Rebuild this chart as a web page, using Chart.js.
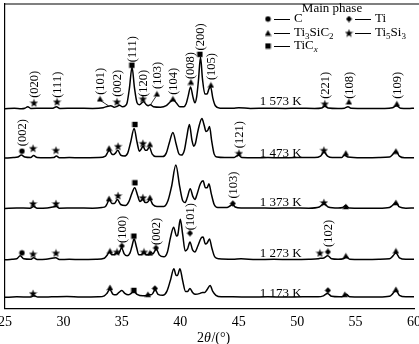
<!DOCTYPE html>
<html>
<head>
<meta charset="utf-8">
<script src="https://cdn.jsdelivr.net/npm/chart.js@4/dist/chart.umd.min.js"></script>
<style>
  html, body { margin: 0; padding: 0; background: #fff; }
  #wrap { width: 419px; height: 344px; position: relative; }
</style>
</head>
<body>
<div id="wrap"><canvas id="xrd"></canvas></div>
<script>
const SERIF = '"Liberation Serif", "Times New Roman", serif';

// one trace per sintering temperature, top to bottom
const temps = ['1 573 K', '1 473 K', '1 373 K', '1 273 K', '1 173 K'];
const offsets = [202, 152, 101, 49, 11];
const tempLabelX = 48.6;
const tempLabelY = [209, 157, 107, 55, 15];

const tt1573 = [25, 25.8, 26.4, 26.7, 26.95, 27.2, 28.2, 29.1, 29.4, 29.7, 31, 32.5, 33.4, 33.8, 34.05, 34.35, 34.6, 34.8, 35.05, 35.3, 35.45, 35.65, 35.87, 36.08, 36.3, 36.5, 36.85, 37.1, 37.25, 37.45, 37.7, 38.3, 38.8, 39.15, 39.4, 39.65, 39.95, 40.3, 40.5, 40.68, 40.88, 41.08, 41.25, 41.4, 41.55, 41.73, 41.9, 42.1, 42.3, 42.45, 42.6, 42.78, 43.0, 43.4, 44.5, 45.0, 46, 47.5, 49, 50, 51.5, 52.1, 52.37, 52.65, 53.5, 54.05, 54.35, 54.6, 56, 57.5, 58.15, 58.5, 58.85, 59.5, 60];
const in1573 = [0, 0.5, 0, 0.5, 2, 0.3, 0.5, 0.5, 2, 0.3, 0.5, 0.3, 1, 2.5, 3, 1.5, 2.5, 3.5, 2, 3, 6, 21, 42, 21, 6, 4, 7, 4, 3, 4, 2, 1.5, 3, 7, 9, 6, 2, 2, 5, 13, 22, 12, 6, 12, 28, 52, 30, 15, 15, 20, 22, 11, 3, 0.5, 0.5, 1, 0.3, 0.5, 0.3, 0.5, 0.3, 0.8, 2.5, 0.8, 0.3, 0.5, 2, 0.5, 0.3, 0.3, 1, 3, 0.5, 0.2, 0.5];

const tt1473 = [25, 25.7, 26.1, 26.4, 26.7, 27.2, 27.45, 27.75, 28.5, 29.15, 29.4, 29.65, 30.5, 31.5, 33.0, 33.6, 33.75, 33.92, 34.15, 34.3, 34.45, 34.65, 34.9, 35.2, 35.5, 35.75, 36.05, 36.3, 36.5, 36.65, 36.82, 37.0, 37.15, 37.35, 37.6, 37.9, 38.5, 38.8, 39.05, 39.37, 39.65, 39.9, 40.1, 40.35, 40.55, 40.78, 41.0, 41.15, 41.3, 41.45, 41.62, 41.85, 42.05, 42.2, 42.35, 42.5, 42.68, 42.9, 43.15, 43.8, 44.6, 44.8, 45.0, 45.25, 46.5, 47.5, 48.5, 50, 51.5, 52.0, 52.3, 52.6, 53.0, 53.8, 54.05, 54.35, 55.5, 57, 57.9, 58.2, 58.45, 58.75, 59.2, 60];
const in1473 = [0, 0.5, 1, 3, 1, 0.5, 2.5, 0.5, 0.3, 0.5, 2, 0.3, 0.5, 0.3, 0.5, 2, 5, 8, 4, 3.5, 5, 8, 3, 2, 5, 16, 30, 16, 7, 9, 12, 8, 8, 11, 4, 1.5, 1.5, 5, 15, 26, 14, 4, 3, 8, 21, 34, 18, 12, 15, 24, 33, 40, 33, 27, 28, 32, 18, 4, 1, 0.5, 0.5, 2, 3, 0.5, 0.3, 0.5, 0.3, 0.5, 0.5, 2, 6, 2, 0.5, 0.5, 3, 1, 0.3, 0.5, 1, 4, 7, 2, 0.3, 0.3];

const tt1373 = [25, 26, 27.15, 27.45, 27.75, 28.6, 29.4, 29.65, 31, 32.5, 33.3, 33.6, 33.75, 33.92, 34.15, 34.35, 34.62, 34.9, 35.3, 35.6, 35.85, 36.1, 36.35, 36.55, 36.8, 37.0, 37.15, 37.4, 37.65, 38.0, 38.6, 38.95, 39.25, 39.62, 39.95, 40.2, 40.4, 40.6, 40.85, 41.08, 41.25, 41.45, 41.72, 41.95, 42.15, 42.3, 42.45, 42.65, 42.9, 43.2, 44.0, 44.25, 44.48, 44.7, 45.2, 46.5, 48, 49.5, 51, 51.9, 52.3, 52.65, 53.5, 53.9, 54.15, 54.45, 55.5, 57, 57.9, 58.15, 58.45, 58.75, 59.3, 60];
const in1373 = [0, 0.5, 0.3, 2, 0.3, 0.5, 2, 0.3, 0.5, 0.3, 1, 2, 5, 9, 5, 5, 9, 4, 3, 7, 15, 21, 13, 7, 9, 6, 6, 9, 4, 2, 2, 8, 22, 44, 22, 8, 6, 11, 20, 12, 9, 15, 25, 28, 21, 21, 25, 15, 4, 1, 1, 2.5, 4, 1.5, 0.5, 0.5, 0.3, 0.5, 0.3, 1.5, 5, 1.5, 0.5, 1, 3, 0.5, 0.3, 0.3, 1, 3, 6, 1.5, 0.3, 0.5];

const tt1273 = [25, 25.6, 26.0, 26.3, 26.6, 27.2, 27.45, 27.75, 28.5, 29.35, 29.65, 30.5, 31.5, 32.8, 33.5, 33.7, 33.95, 34.15, 34.3, 34.55, 34.7, 34.98, 35.2, 35.45, 35.7, 35.85, 36.05, 36.25, 36.45, 36.65, 36.88, 37.1, 37.3, 37.48, 37.65, 37.95, 38.2, 38.6, 38.9, 39.15, 39.43, 39.68, 39.78, 40.0, 40.2, 40.42, 40.62, 40.83, 41.05, 41.25, 41.5, 41.78, 41.95, 42.15, 42.3, 42.5, 42.7, 42.95, 43.3, 44.5, 45.2, 46.5, 48, 49.5, 51.0, 51.8, 52.0, 52.2, 52.62, 52.95, 53.5, 53.95, 54.2, 54.5, 55.5, 57, 57.9, 58.2, 58.45, 58.75, 59.3, 60];
const in1273 = [0, 0.5, 1, 4, 1, 0.5, 2, 0.3, 0.5, 2, 0.3, 0.5, 0.3, 0.5, 1.5, 4, 8, 5, 5, 7, 6, 12, 6, 4, 7, 13, 21, 13, 5, 5, 8, 5, 5, 8, 6, 11, 5, 3, 8, 22, 33, 24, 25, 41, 26, 9, 11, 18, 10, 8, 14, 22, 23, 16, 17, 21, 12, 3, 1, 0.5, 1, 0.3, 0.5, 0.3, 0.5, 1, 1.5, 1.5, 4, 1, 0.5, 1, 3, 0.5, 0.3, 0.5, 1, 4, 7, 2, 0.5, 0.5];

const tt1173 = [25, 26, 27.2, 27.5, 27.8, 29, 30.3, 31.5, 33, 33.5, 33.72, 33.97, 34.25, 34.5, 34.75, 35.0, 35.25, 35.55, 35.8, 36.03, 36.3, 36.8, 37.1, 37.28, 37.5, 37.65, 37.85, 38.1, 38.5, 38.85, 39.15, 39.45, 39.65, 39.75, 39.97, 40.2, 40.45, 40.63, 40.83, 41.05, 41.3, 41.7, 41.9, 42.1, 42.3, 42.55, 42.78, 43.05, 43.5, 44.5, 46, 47.5, 49, 50.5, 51.8, 52.25, 52.6, 52.95, 53.6, 53.95, 54.2, 54.5, 55.5, 57, 57.9, 58.2, 58.45, 58.75, 59.3, 60];
const in1173 = [0, 0.5, 0.3, 1.5, 0.3, 0.5, 0.8, 0.3, 0.5, 1.5, 4, 8, 3, 2.5, 5, 7, 4, 2.5, 4, 6, 3, 1.5, 2, 3, 2.5, 4, 8, 3, 2, 6, 17, 29, 22, 22, 29, 17, 6, 6, 9, 5, 3, 4, 5, 5, 8, 12, 6, 2, 0.5, 0.5, 0.3, 0.5, 0.3, 0.5, 0.5, 1.5, 4, 1, 0.5, 1, 3, 0.5, 0.3, 0.3, 1, 4, 7, 2, 0.5, 0.5];

const traceX = [tt1573, tt1473, tt1373, tt1273, tt1173];
const traceY = [in1573, in1473, in1373, in1273, in1173];

// phase markers (2theta, plotted height)
const cMarkX = [26.45, 26.45];
const cMarkY = [159, 56];
const tiMarkX = [44.5, 35.0, 37.92, 40.83, 52.63, 37.83, 52.63];
const tiMarkY = [106, 63, 61, 76, 57, 20, 18];
const tscMarkX = [33.13, 38.0, 39.37, 40.91, 42.62, 54.43, 58.53, 33.9, 37.4, 54.17, 58.45, 33.9, 37.4, 54.17, 58.45, 33.98, 37.4, 54.17, 58.45, 33.98, 37.23, 54.08, 58.45];
const tscMarkY = [212, 217, 212, 229, 226, 209, 207, 162, 166, 157, 159, 111, 112, 103, 107, 58, 56, 53, 58, 21, 14, 14, 19];
const tsMarkX = [27.48, 29.45, 34.58, 36.8, 52.37, 27.4, 29.36, 34.67, 36.8, 45.02, 52.29, 27.4, 29.36, 34.67, 36.8, 52.29, 27.4, 29.36, 34.58, 36.89, 51.95, 27.4];
const tsMarkY = [208, 209, 209, 212, 207, 162, 160, 164, 167, 157, 160, 106, 106, 114, 112, 107, 55, 56, 57, 57, 56, 15];
const ticMarkX = [35.86, 41.68, 36.12, 36.12, 36.03, 36.03];
const ticMarkY = [246, 257, 186, 127, 73, 18];

// Miller indices written upward above peaks
const hklText = ['(020)', '(111)', '(101)', '(002)', '(111)', '(120)', '(103)', '(104)', '(008)', '(200)', '(105)', '(221)', '(108)', '(109)', '(002)', '(121)', '(103)', '(100)', '(002)', '(101)', '(102)'];
const hklX = [27.48, 29.45, 33.13, 34.58, 35.86, 36.8, 38.0, 39.37, 40.83, 41.68, 42.62, 52.37, 54.43, 58.53, 26.45, 45.02, 44.5, 35.0, 37.92, 40.83, 52.63];
const hklY = [213, 213, 216, 214, 249, 214, 222, 216, 232, 261, 231, 212, 212, 212, 164, 162, 111, 66, 64, 79, 62];

// leader lines from shifted labels down to their peaks
const leadFromX = [33.2, 37.9];
const leadFromY = [210, 214];
const leadToX = [33.85, 37.45];
const leadToY = [205, 206];

function makeMark(kind) {
  const c = document.createElement('canvas');
  const s = kind === 'star' ? 9 : 7;
  c.width = s; c.height = s;
  const g = c.getContext('2d');
  const m = s / 2;
  g.fillStyle = '#000';
  g.beginPath();
  if (kind === 'circle') {
    g.arc(m, m, 2.7, 0, Math.PI * 2);
  } else if (kind === 'diamond') {
    g.moveTo(m, 0.3); g.lineTo(s - 0.5, m); g.lineTo(m, s - 0.3); g.lineTo(0.5, m);
  } else if (kind === 'triangle') {
    g.moveTo(m, 0.5); g.lineTo(s - 0.3, s - 0.8); g.lineTo(0.3, s - 0.8);
  } else if (kind === 'square') {
    g.rect(0.8, 0.8, s - 1.6, s - 1.6);
  } else {
    for (let k = 0; k < 10; k++) {
      const r = k % 2 === 0 ? 4.4 : 1.8;
      const a = -Math.PI / 2 + k * Math.PI / 5;
      const px = m + r * Math.cos(a), py = m + 0.4 + r * Math.sin(a);
      if (k === 0) g.moveTo(px, py); else g.lineTo(px, py);
    }
  }
  g.closePath();
  g.fill();
  return c;
}

const marks = {
  circle: makeMark('circle'),
  diamond: makeMark('diamond'),
  triangle: makeMark('triangle'),
  square: makeMark('square'),
  star: makeMark('star')
};

const datasets = traceX.map((xs, i) => ({
  data: xs.map((x, j) => ({ x: x, y: offsets[i] + traceY[i][j] })),
  borderColor: '#000',
  borderWidth: 1.5,
  pointRadius: 0,
  fill: false,
  cubicInterpolationMode: 'monotone'
}));

function markSet(xs, ys, img) {
  return {
    data: xs.map((x, j) => ({ x: x, y: ys[j] })),
    showLine: false,
    pointStyle: img,
    pointRadius: 3,
    borderWidth: 0
  };
}

datasets.push(markSet(cMarkX, cMarkY, marks.circle));
datasets.push(markSet(tiMarkX, tiMarkY, marks.diamond));
datasets.push(markSet(tscMarkX, tscMarkY, marks.triangle));
datasets.push(markSet(tsMarkX, tsMarkY, marks.star));
datasets.push(markSet(ticMarkX, ticMarkY, marks.square));

// text with subscripts: parts = [text, sub?, italic?]
function drawRich(ctx, parts, x, y, size) {
  const big = size || 13;
  let cx = x;
  parts.forEach(p => {
    const sub = p[1], ital = p[2];
    ctx.font = (ital ? 'italic ' : '') + (sub ? '9px ' : big + 'px ') + SERIF;
    ctx.fillText(p[0], cx, sub ? y + 3.5 : y);
    cx += ctx.measureText(p[0]).width;
  });
  return cx;
}

const decorations = {
  id: 'decorations',
  afterDatasetsDraw(chart) {
    const ctx = chart.ctx;
    const xs = chart.scales.x, ys = chart.scales.y;
    const area = chart.chartArea;
    ctx.save();
    ctx.fillStyle = '#000';
    ctx.strokeStyle = '#000';

    // top frame line
    ctx.lineWidth = 1.2;
    ctx.beginPath();
    ctx.moveTo(area.left, area.top);
    ctx.lineTo(chart.width, area.top);
    ctx.stroke();

    // leader lines
    ctx.lineWidth = 0.8;
    leadFromX.forEach((x, i) => {
      ctx.beginPath();
      ctx.moveTo(xs.getPixelForValue(x), ys.getPixelForValue(leadFromY[i]));
      ctx.lineTo(xs.getPixelForValue(leadToX[i]), ys.getPixelForValue(leadToY[i]));
      ctx.stroke();
    });

    // hkl labels
    ctx.font = '12.5px ' + SERIF;
    ctx.textAlign = 'left';
    ctx.textBaseline = 'middle';
    hklText.forEach((t, i) => {
      ctx.save();
      ctx.translate(xs.getPixelForValue(hklX[i]), ys.getPixelForValue(hklY[i]));
      ctx.rotate(-Math.PI / 2);
      ctx.fillText(t, 0, 0.5);
      ctx.restore();
    });

    // temperatures
    ctx.font = '13px ' + SERIF;
    ctx.textAlign = 'center';
    temps.forEach((t, i) => {
      ctx.fillText(t, xs.getPixelForValue(tempLabelX), ys.getPixelForValue(tempLabelY[i]));
    });

    // legend
    ctx.fillText('Main phase', 332, 9);
    ctx.textAlign = 'left';
    const rows = [
      [marks.circle, 268, 19, [['C']]],
      [marks.diamond, 349, 19, [['Ti']]],
      [marks.triangle, 268, 33, [['Ti'], ['3', 1], ['SiC'], ['2', 1]]],
      [marks.star, 349, 33, [['Ti'], ['5', 1], ['Si'], ['3', 1]]],
      [marks.square, 268, 46, [['TiC'], ['x', 1, 1]]]
    ];
    ctx.lineWidth = 1;
    rows.forEach(r => {
      const img = r[0];
      ctx.drawImage(img, r[1] - img.width / 2, r[2] - img.height / 2);
      ctx.beginPath();
      ctx.moveTo(r[1] + 6, r[2] + 0.5);
      ctx.lineTo(r[1] + 22, r[2] + 0.5);
      ctx.stroke();
      drawRich(ctx, r[3], r[1] + 26, r[2]);
    });

    // axis title 2θ/(°)
    let tx = 197;
    const ty = 338;
    tx = drawRich(ctx, [['2']], tx, ty, 14);
    tx = drawRich(ctx, [['θ', 0, 1]], tx, ty, 14);
    drawRich(ctx, [['/(°)']], tx + 0.5, ty, 14);

    ctx.restore();
  }
};

new Chart(document.getElementById('xrd'), {
  type: 'line',
  data: { datasets: datasets },
  options: {
    responsive: true,
    maintainAspectRatio: false,
    animation: false,
    layout: { padding: { left: 5, right: 5, top: 1, bottom: 7 } },
    plugins: {
      legend: { display: false },
      tooltip: { enabled: false }
    },
    scales: {
      x: {
        type: 'linear',
        min: 25,
        max: 60,
        afterFit: (scale) => { scale.paddingLeft = 0; scale.paddingRight = 0; },
        ticks: {
          stepSize: 5,
          padding: 6,
          color: '#000',
          font: { family: SERIF, size: 14 }
        },
        grid: { drawOnChartArea: false, drawTicks: false },
        border: { color: '#000', width: 1.2 }
      },
      y: {
        min: 0,
        max: 308,
        ticks: { display: false },
        grid: { display: false, drawTicks: false },
        border: { color: '#000', width: 1.2 }
      }
    }
  },
  plugins: [decorations]
});
</script>
</body>
</html>
